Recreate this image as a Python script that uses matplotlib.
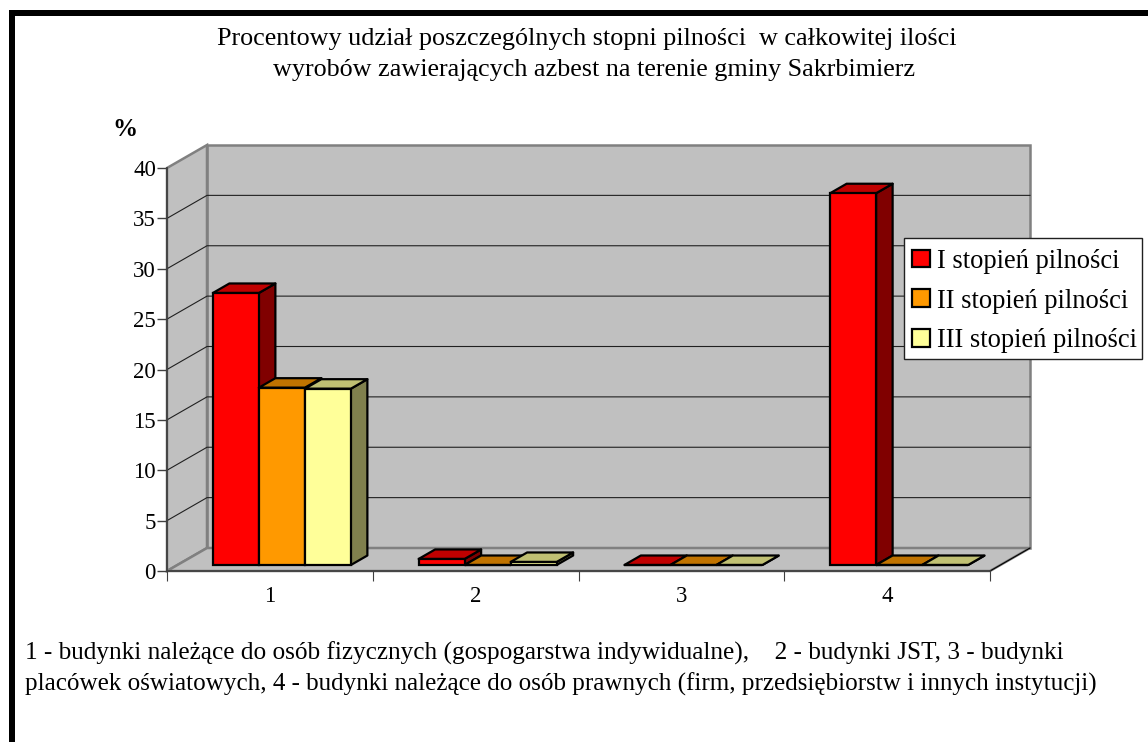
import matplotlib
matplotlib.use("Agg")
import matplotlib.pyplot as plt
from matplotlib.patches import Patch, Polygon, Rectangle
import numpy as np

W, H = 1148, 742

categories = ["1", "2", "3", "4"]
series_names = ["I stopień pilności", "II stopień pilności", "III stopień pilności"]
series_1 = [27.0, 0.6, 0.0, 36.9]
series_2 = [17.6, 0.0, 0.0, 0.0]
series_3 = [17.5, 0.3, 0.0, 0.0]
y_ticks = [0, 5, 10, 15, 20, 25, 30, 35, 40]

title_lines = ["Procentowy udział poszczególnych stopni pilności  w całkowitej ilości",
               "wyrobów zawierających azbest na terenie gminy Sakrbimierz"]
title_centers = [586.5, 594]
note_lines = ["1 - budynki należące do osób fizycznych (gospogarstwa indywidualne),    2 - budynki JST, 3 - budynki",
              "placówek oświatowych, 4 - budynki należące do osób prawnych (firm, przedsiębiorstw i innych instytucji)"]
note_sizes = [18.15, 18.05]

colors = ["#FF0000", "#FF9900", "#FFFF99"]
tops = ["#C00000", "#C07300", "#C0C073"]
sides = ["#800000", "#804D00", "#80804D"]

plt.rcParams["font.family"] = ["Liberation Serif", "DejaVu Serif"]
plt.rcParams["text.color"] = "black"

def fx(px):
    return px / W

def fy(py):
    return 1 - py / H

fig = plt.figure(figsize=(W / 100, H / 100), dpi=100, facecolor="white")

# outer frame, only left and top are visible in the source
fig.add_artist(Rectangle((fx(9), 0), 6 / W, fy(10), transform=fig.transFigure, color="black", lw=0))
fig.add_artist(Rectangle((fx(9), fy(16)), 1 - fx(9), 6 / H, transform=fig.transFigure, color="black", lw=0))

ax = fig.add_axes([fx(167), fy(571), (990 - 167) / W, (571 - 168) / H])
ax.set_xlim(0, len(categories))
ax.set_ylim(0, 40)
ax.patch.set_visible(False)
for s in ["top", "right"]:
    ax.spines[s].set_visible(False)
for s in ["left", "bottom"]:
    ax.spines[s].set_color("#404040")
    ax.spines[s].set_linewidth(1.3)
    ax.spines[s].set_zorder(3)

# depth of the fake 3d box, in data units
DX = 40 / (823 / 4)
DY = 23 / (403 / 40)
# bar geometry
bar_w = 46 / (823 / 4)
bar_dx = 16.5 / (823 / 4)
bar_dy = 9.5 / (403 / 40)
base_dx = 12 / (823 / 4)
base_dy = 6 / (403 / 40)
gap = (1 - 3 * bar_w) / 2

n = len(categories)
wall = "#C0C0C0"
edge = "#808080"
ax.add_patch(Polygon([(DX, DY), (n + DX, DY), (n + DX, 40 + DY), (DX, 40 + DY)],
                     fc=wall, ec=edge, lw=1.8, clip_on=False, zorder=1))
ax.add_patch(Polygon([(0, 0), (DX, DY), (DX, 40 + DY), (0, 40)],
                     fc=wall, ec=edge, lw=1.8, clip_on=False, zorder=1))
ax.add_patch(Polygon([(0, 0), (n, 0), (n + DX, DY), (DX, DY)],
                     fc=wall, ec=edge, lw=1.8, clip_on=False, zorder=1))
ax.plot([n, n + DX], [0, DY], color="black", lw=0.8, clip_on=False, zorder=2)

# gridlines on side wall and back wall
for v in y_ticks[1:-1]:
    ax.plot([0, DX, n + DX], [v, v + DY, v + DY], color="#202020", lw=0.8,
            clip_on=False, zorder=2)

all_series = [series_1, series_2, series_3]
order = 10
for i in range(n):
    for j, vals in enumerate(all_series):
        x0 = i + gap + j * bar_w + base_dx
        x1 = x0 + bar_w
        v = vals[i]
        b = base_dy
        ax.add_patch(Polygon([(x1, b), (x1 + bar_dx, b + bar_dy), (x1 + bar_dx, b + v + bar_dy), (x1, b + v)],
                             fc=sides[j], ec="black", lw=1.6, clip_on=False, zorder=order, joinstyle="round"))
        ax.add_patch(Polygon([(x0, b + v), (x1, b + v), (x1 + bar_dx, b + v + bar_dy), (x0 + bar_dx, b + v + bar_dy)],
                             fc=tops[j], ec="black", lw=1.6, clip_on=False, zorder=order, joinstyle="round"))
        ax.bar(x0, v, bar_w, bottom=b, align="edge", color=colors[j], edgecolor="black",
               linewidth=1.6, clip_on=False, zorder=order + 1)
        order += 2

ax.set_yticks(y_ticks)
ax.set_xticks(np.arange(n + 1))
ax.set_xticklabels([])
ax.set_xticks(np.arange(n) + 0.5, minor=True)
ax.set_xticklabels(categories, minor=True)
ax.tick_params(axis="x", which="minor", length=0, pad=11, labelsize=16.5)
ax.tick_params(axis="x", which="major", length=7, width=0.8, color="#404040")
ax.tick_params(axis="y", length=7, width=1, color="#404040", labelsize=16.5, pad=1)

for k, line in enumerate(title_lines):
    fig.text(fx(title_centers[k]), fy(39 + 31 * k), line, ha="center", va="center", fontsize=18.8)
fig.text(fx(125), fy(129), "%", ha="center", va="center", fontsize=18, fontweight="bold")
for k, line in enumerate(note_lines):
    fig.text(fx(25), fy(653 + 31 * k), line, ha="left", va="center", fontsize=note_sizes[k])

# legend box drawn apart, its padding is not even on all sides
fig.add_artist(Rectangle((fx(904), fy(358.5)), (1141.5 - 904) / W, 120.5 / H, transform=fig.transFigure,
                         fc="white", ec="#202020", lw=1, zorder=50))
handles = [Patch(facecolor=c, edgecolor="black", linewidth=1.6) for c in colors]
leg = fig.legend(handles, series_names, loc="upper left",
                 bbox_to_anchor=(fx(904), fy(241)), bbox_transform=fig.transFigure,
                 fontsize=19.1, frameon=False,
                 handlelength=0.67, handleheight=0.65, handletextpad=0.26, labelspacing=0.55,
                 borderpad=0.3, borderaxespad=0)
leg.set_zorder(100)

fig.savefig("out.png", dpi=100, facecolor="white")
